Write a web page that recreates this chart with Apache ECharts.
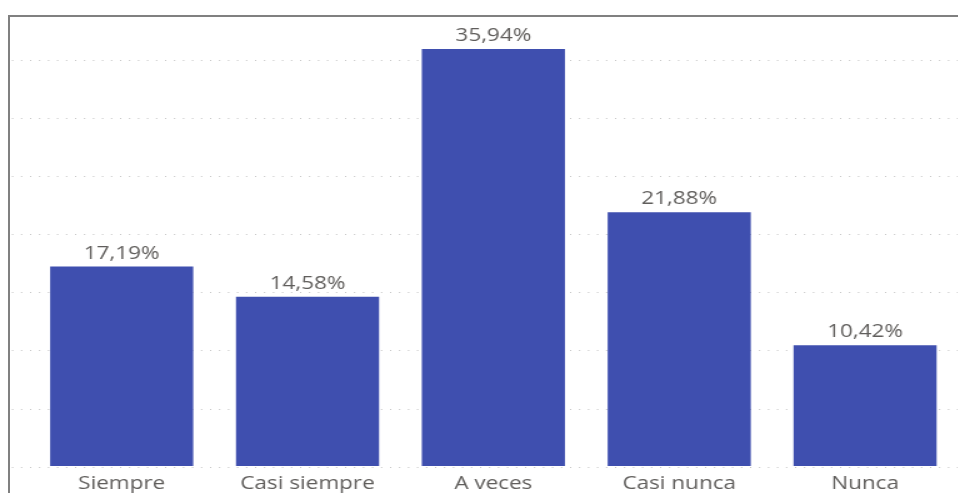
<!DOCTYPE html>
<html>
<head>
<meta charset="utf-8">
<script src="https://cdn.jsdelivr.net/npm/echarts@6/dist/echarts.min.js"></script>
<style>
  html, body { margin: 0; padding: 0; background: #fff; overflow: hidden; }
  #wrap { position: relative; width: 958px; height: 493px; overflow: hidden; }
  /* chart is laid out narrower and widened, giving the broad lettering */
  #chart { width: 767px; height: 493px; transform: scaleX(1.25); transform-origin: 0 0; }
  /* frame: top and left edges */
  #frame { position: absolute; left: 8px; top: 15px; right: 0; bottom: 0;
           border-top: 2px solid #808080; border-left: 2px solid #808080; pointer-events: none; }
</style>
</head>
<body>
<div id="wrap"><div id="chart"></div><div id="frame"></div></div>
<script>
const categories = ['Siempre', 'Casi siempre', 'A veces', 'Casi nunca', 'Nunca'];
const percentages = [17.19, 14.58, 35.94, 21.88, 10.42];

const barColor = '#3F4FAF';
const textColor = '#605E5C';
const fmt = v => v.toFixed(2).replace('.', ',') + '%';

const chart = echarts.init(document.getElementById('chart'), null, { renderer: 'canvas' });

chart.setOption({
  animation: false,
  textStyle: { fontFamily: '"Open Sans", "Noto Sans", sans-serif' },
  grid: [
    // bars
    { left: 23, right: 0.6, top: 2, bottom: 26, containLabel: false },
    // dotted reference lines, spanning the full frame
    { left: 9.6, right: 0, top: 60, bottom: 26, containLabel: false }
  ],
  xAxis: [
    {
      type: 'category', gridIndex: 0, data: categories,
      axisLine: { show: false }, axisTick: { show: false },
      axisLabel: { color: textColor, fontSize: 18, margin: 9 }
    },
    {
      type: 'value', gridIndex: 1, min: 0, max: 1, show: false
    }
  ],
  yAxis: [
    {
      type: 'value', gridIndex: 0, min: 0, max: 40, interval: 5,
      axisLabel: { show: false }, axisLine: { show: false }, axisTick: { show: false },
      splitLine: { show: false }
    },
    {
      type: 'value', gridIndex: 1, min: 0, max: 35, interval: 5,
      axisLabel: { show: false }, axisLine: { show: false }, axisTick: { show: false },
      splitLine: { show: true, lineStyle: { color: '#c4c4c4', width: 1, type: [1, 6.2] } }
    }
  ],
  series: [
    {
      type: 'bar', xAxisIndex: 0, yAxisIndex: 0,
      data: percentages,
      barCategoryGap: '23%',
      itemStyle: { color: barColor },
      label: {
        show: true, position: 'top', distance: 4,
        color: textColor, fontSize: 18,
        formatter: p => fmt(p.value)
      },
      z: 3
    }
  ]
});
</script>
</body>
</html>
